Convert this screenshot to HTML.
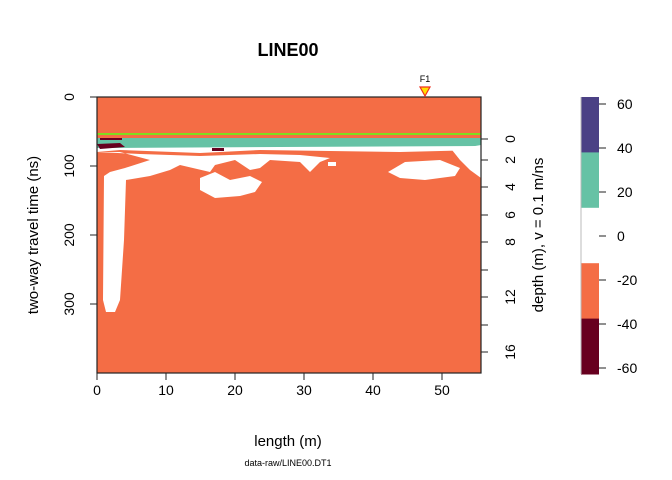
<!DOCTYPE html>
<html><head><meta charset="utf-8"><style>
body{margin:0;background:#fff}
svg{display:block;font-family:"Liberation Sans",sans-serif}
</style></head><body>
<svg id="c" width="672" height="480" viewBox="0 0 672 480">
<text x="288" y="56" font-size="18" font-weight="bold" text-anchor="middle">LINE00</text>
<g id="plot">
<rect x="97" y="97" width="384" height="276" fill="#f46d45"/>
<rect x="97" y="138" width="384" height="10" fill="#66c2a5"/>
<path d="M97,148 L481,146 L481,150 L400,152 L330,151 L260,150 L200,153 L120,150 L97,152Z" fill="#fff"/>
<path d="M97,152 L120,152 L150,160 L125,168 L110,172 L104,176 L103,300 L106,312 L115,312 L120,300 L124,240 L126,180 L150,176 L170,170 L180,165 L210,172 L215,165 L235,160 L250,170 L260,168 L270,160 L300,162 L310,172 L320,162 L330,158 L300,155 L260,154 L200,156 L140,154 Z" fill="#fff"/>
<path d="M200,178 L215,172 L230,180 L250,176 L262,182 L255,192 L240,196 L215,198 L200,190 Z" fill="#fff"/>
<path d="M388,172 L405,162 L440,160 L460,168 L455,176 L425,180 L400,178 Z" fill="#fff"/>
<path d="M452,150 L481,145 L481,178 L470,170 L460,160 Z" fill="#fff"/>
<rect x="328" y="162" width="8" height="4" fill="#fff"/>
<path d="M97,144 L120,143 L125,147 L100,149 Z" fill="#67001f"/>
<rect x="100" y="138" width="22" height="2" fill="#67001f"/>
<rect x="212" y="148" width="12" height="3" fill="#67001f"/>
<rect x="97" y="133" width="384" height="2" fill="#7fdc1e"/>
<rect x="97" y="97" width="384" height="276" fill="none" stroke="#222" stroke-width="1.2"/>
</g>
<polygon points="420,87 430,87 425,96" fill="#ffe000" stroke="#f03020" stroke-width="1.2"/>
<text x="425" y="82" font-size="9" text-anchor="middle">F1</text>
<g id="axes"></g>
<text x="288" y="446" font-size="15" text-anchor="middle">length (m)</text>
<text transform="translate(38,235) rotate(-90)" font-size="15" text-anchor="middle">two-way travel time (ns)</text>
<text transform="translate(543,235) rotate(-90)" font-size="15" text-anchor="middle">depth (m),  v = 0.1 m/ns</text>
<text x="288" y="466" font-size="9" text-anchor="middle">data-raw/LINE00.DT1</text>
<g id="cbar"></g>
</svg>
<script>
const xTicks=[0,10,20,30,40,50];
const yTicks=[0,100,200,300];
const depthTicks=[0,2,4,6,8,10,12,14,16];
const depthLabels=["0","2","4","6","8","","12","","16"];
const depthPos=[139,160,187,215,242,270,297,325,352];
const cbColors=["#4b4185","#66c2a5","#ffffff","#f46d45","#67001f"];
const cbTicks=[60,40,20,0,-20,-40,-60];
const NS="http://www.w3.org/2000/svg";
function mk(p,t,a,txt){const e=document.createElementNS(NS,t);for(const k in a)e.setAttribute(k,a[k]);if(txt!==undefined)e.textContent=txt;p.appendChild(e);return e;}
const sx=v=>97+v*6.9, sy=v=>97+v*0.69, cy=v=>236-v*2.2;
const ax=document.getElementById('axes');
xTicks.forEach(v=>{
 const l=mk(ax,'line',{x1:sx(v),x2:sx(v),y1:373,y2:380,stroke:'#222'});
 
 
 const t=mk(ax,'text',{x:sx(v),y:395,'font-size':14,'text-anchor':'middle'},v);
 
 
});
yTicks.forEach(v=>{
 const l=mk(ax,'line',{x1:90,x2:97,y1:sy(v),y2:sy(v),stroke:'#222'});
 
 
 const t=mk(ax,'text',{transform:`translate(74,${sy(v)}) rotate(-90)`,'font-size':14,'text-anchor':'middle'},v);
 
 
});
depthTicks.forEach((v,i)=>{
 const y=depthPos[i];
 const l=mk(ax,'line',{x1:481,x2:488,y1:y,y2:y,stroke:'#222'});
 
 
 const t=mk(ax,'text',{transform:`translate(515,${y}) rotate(-90)`,'font-size':14,'text-anchor':'middle'},depthLabels[i]);
 
 
});
const cb=document.getElementById('cbar');
const bh=277/cbColors.length;
cbColors.forEach((c,i)=>{
 const r=mk(cb,'rect',{x:581,y:97+i*bh,width:18,height:bh+0.5,fill:c});
 
 
});
mk(cb,'line',{x1:581,x2:581,y1:97,y2:374,stroke:'#bbb'});
cbTicks.forEach(v=>{
 const y=cy(v);
 const l=mk(cb,'line',{x1:599,x2:606,y1:y,y2:y,stroke:'#222'});
 
 
 const t=mk(cb,'text',{x:617,y:y+5,'font-size':14},v);
 
 
});
</script>
</body></html>
